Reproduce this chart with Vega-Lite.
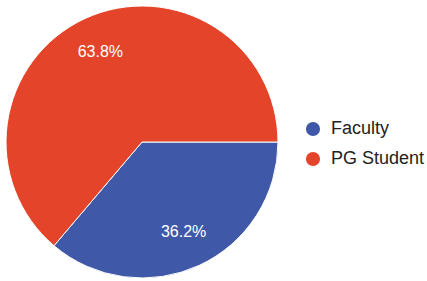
{
  "$schema": "https://vega.github.io/schema/vega-lite/v6.json",
  "width": 284,
  "height": 284,
  "padding": 0,
  "autosize": "pad",
  "background": "white",
  "data": {"values": [
    {"category": "Faculty", "value": 36.2, "label": "36.2%"},
    {"category": "PG Student", "value": 63.8, "label": "63.8%"}
  ]},
  "encoding": {
    "theta": {"field": "value", "type": "quantitative", "stack": true, "scale": {"range": [1.5708, 7.85398]}},
    "order": {"field": "category", "type": "nominal", "sort": "ascending"}
  },
  "layer": [
    {
      "mark": {"type": "arc", "outerRadius": 136, "stroke": "white", "strokeWidth": 1},
      "encoding": {
        "color": {
          "field": "category", "type": "nominal",
          "scale": {"domain": ["Faculty", "PG Student"], "range": ["#3f59a8", "#e4452a"]},
          "legend": {
            "title": null, "orient": "none", "legendX": 304, "legendY": 120,
            "symbolType": "circle", "symbolSize": 200, "symbolStrokeWidth": 0,
            "labelFont": "Liberation Sans", "labelFontSize": 18, "labelColor": "#222222",
            "rowPadding": 12, "labelOffset": 9
          }
        }
      }
    },
    {
      "mark": {"type": "text", "radius": 99, "font": "Liberation Sans", "fontSize": 16, "fill": "white"},
      "encoding": {
        "text": {"field": "label"},
        "detail": {"field": "category", "type": "nominal"}
      }
    }
  ]
}
